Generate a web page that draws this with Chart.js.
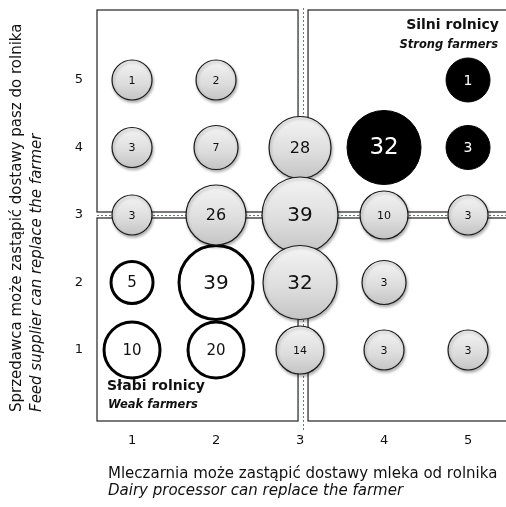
<!DOCTYPE html>
<html>
<head>
<meta charset="utf-8">
<script src="https://cdn.jsdelivr.net/npm/chart.js@4.4.1/dist/chart.umd.min.js"></script>
<style>
  html, body { margin: 0; padding: 0; background: #fff; }
  #wrap { width: 506px; height: 507px; }
</style>
</head>
<body>
<div id="wrap"><canvas id="bubbleChart"></canvas></div>
<script>
// tick labels
const xTicks = [1, 2, 3, 4, 5];
const yTicks = [1, 2, 3, 4, 5];

// middle group (grey bubbles), drawn top row first
const midX     = [1, 2, 1, 2, 3, 1, 2, 3, 4, 5, 3, 4, 3, 4, 5];
const midY     = [5, 5, 4, 4, 4, 3, 3, 3, 3, 3, 2, 2, 1, 1, 1];
const midCount = [1, 2, 3, 7, 28, 3, 26, 39, 10, 3, 32, 3, 14, 3, 3];
const midSize  = [20, 20, 20, 22, 31, 20, 30, 38, 24, 20, 37, 22, 24, 20, 20];

// weak farmers (open circles)
const weakX     = [1, 2, 1, 2];
const weakY     = [2, 2, 1, 1];
const weakCount = [5, 39, 10, 20];
const weakSize  = [21, 37, 28, 28];

// strong farmers (black bubbles)
const strongX     = [5, 4, 5];
const strongY     = [5, 4, 4];
const strongCount = [1, 32, 3];
const strongSize  = [22, 37, 22];

const xTitle = ['Mleczarnia może zastąpić dostawy mleka od rolnika', 'Dairy processor can replace the farmer'];
const yTitle = ['Sprzedawca może zastąpić dostawy pasz do rolnika', 'Feed supplier can replace the farmer'];
const strongLabel = ['Silni rolnicy', 'Strong farmers'];
const weakLabel = ['Słabi rolnicy', 'Weak farmers'];

const FONT = '"DejaVu Sans", sans-serif';
const SPLIT = 3; // quadrant divider on both axes

function points(xs, ys, rs, counts) {
    return xs.map((x, i) => ({ x: x, y: ys[i], r: rs[i], n: counts[i] }));
}

function greyFill(c) {
    if (c.type !== 'data') return '#dcdcdc';
    const y = c.chart.scales.y;
    if (!y || !y.height) return '#dcdcdc';
    const cy = y.getPixelForValue(c.raw.y);
    const g = c.chart.ctx.createLinearGradient(0, cy - c.raw.r, 0, cy + c.raw.r);
    g.addColorStop(0, '#f4f4f4');
    g.addColorStop(0.6, '#dcdcdc');
    g.addColorStop(1, '#c4c4c4');
    return g;
}

// quadrant boxes and the blue dashed divider lines
const quadrantPlugin = {
    id: 'quadrants',
    beforeDatasetsDraw(chart) {
        const { ctx, chartArea: a, scales } = chart;
        const sx = scales.x.getPixelForValue(SPLIT) + 3;
        const sy = scales.y.getPixelForValue(SPLIT);
        ctx.save();
        ctx.strokeStyle = '#222';
        ctx.lineWidth = 1.2;
        ctx.strokeRect(a.left, a.top, sx - 5 - a.left, sy - 3 - a.top);
        ctx.strokeRect(a.left, sy + 3, sx - 5 - a.left, a.bottom - sy - 3);
        ctx.strokeRect(sx + 5, a.top, a.right + 10 - sx, sy - 3 - a.top);
        ctx.strokeRect(sx + 5, sy + 3, a.right + 10 - sx, a.bottom - sy - 3);
        ctx.strokeStyle = '#2f7fe6';
        ctx.lineWidth = 1;
        ctx.setLineDash([2, 2]);
        ctx.beginPath();
        ctx.moveTo(sx + 0.5, a.top - 2);
        ctx.lineTo(sx + 0.5, a.bottom + 10);
        ctx.moveTo(a.left, sy + 0.5);
        ctx.lineTo(a.right, sy + 0.5);
        ctx.stroke();
        ctx.restore();
    }
};

// drop shadow for the filled bubbles, value labels inside every bubble
const bubbleTextPlugin = {
    id: 'bubbleText',
    beforeDatasetDraw(chart, args) {
        const ctx = chart.ctx;
        ctx.save();
        if (args.index === 0) {
            ctx.shadowColor = 'rgba(0,0,0,0.3)';
            ctx.shadowBlur = 3;
            ctx.shadowOffsetX = 1;
            ctx.shadowOffsetY = 2;
        }
    },
    afterDatasetDraw(chart, args) {
        const ctx = chart.ctx;
        ctx.restore();
        const ds = chart.data.datasets[args.index];
        const meta = args.meta;
        ctx.save();
        ctx.textAlign = 'center';
        ctx.textBaseline = 'middle';
        ds.data.forEach((p, i) => {
            const el = meta.data[i];
            let size;
            if (args.index === 0) size = p.r < 26 ? 11 : (p.r < 34 ? 16 : 20);
            else if (args.index === 1) size = p.r >= 34 ? 20 : 15;
            else size = p.r >= 34 ? 23 : 14;
            ctx.font = size + 'px ' + FONT;
            ctx.fillStyle = args.index === 2 ? '#fff' : '#111';
            ctx.fillText(String(p.n), el.x, el.y + 1);
        });
        ctx.restore();
    }
};

// axis titles and quadrant names
const titlesPlugin = {
    id: 'titles',
    afterDraw(chart) {
        const ctx = chart.ctx;
        ctx.save();
        ctx.fillStyle = '#111';
        ctx.textBaseline = 'alphabetic';
        ctx.textAlign = 'left';
        ctx.font = '15px ' + FONT;
        ctx.fillText(xTitle[0], 108, 478);
        ctx.font = 'italic 15px ' + FONT;
        ctx.fillText(xTitle[1], 108, 495);

        ctx.save();
        ctx.translate(21, 412);
        ctx.rotate(-Math.PI / 2);
        ctx.font = '15px ' + FONT;
        ctx.fillText(yTitle[0], 0, 0);
        ctx.font = 'italic 15px ' + FONT;
        ctx.fillText(yTitle[1], 0, 20);
        ctx.restore();

        ctx.textAlign = 'right';
        ctx.font = 'bold 14px ' + FONT;
        ctx.fillText(strongLabel[0], 499, 29);
        ctx.font = 'bold italic 11.5px ' + FONT;
        ctx.fillText(strongLabel[1], 498, 48);

        ctx.textAlign = 'left';
        ctx.font = 'bold 14px ' + FONT;
        ctx.fillText(weakLabel[0], 107, 390);
        ctx.font = 'bold italic 11.5px ' + FONT;
        ctx.fillText(weakLabel[1], 108, 408);
        ctx.restore();
    }
};

new Chart(document.getElementById('bubbleChart'), {
    type: 'bubble',
    data: {
        datasets: [{
            label: 'middle',
            data: points(midX, midY, midSize, midCount),
            backgroundColor: greyFill,
            borderColor: '#1a1a1a',
            borderWidth: 1.2
        }, {
            label: 'weak',
            data: points(weakX, weakY, weakSize, weakCount),
            backgroundColor: '#fff',
            borderColor: '#000',
            borderWidth: 3
        }, {
            label: 'strong',
            data: points(strongX, strongY, strongSize, strongCount),
            backgroundColor: '#000',
            borderColor: '#000',
            borderWidth: 1
        }]
    },
    options: {
        responsive: true,
        maintainAspectRatio: false,
        animation: false,
        layout: { autoPadding: false, padding: { top: 10, right: 0, left: 0, bottom: 0 } },
        plugins: {
            legend: { display: false },
            tooltip: { enabled: false }
        },
        scales: {
            x: {
                type: 'linear',
                min: 0.583,
                max: 5.452,
                grid: { display: false, drawTicks: false },
                border: { display: false },
                afterBuildTicks: s => { s.ticks = xTicks.map(v => ({ value: v })); },
                afterFit: s => { s.height = 86; s.paddingLeft = 0; s.paddingRight = 0; },
                ticks: { color: '#111', padding: 12, font: { family: FONT, size: 13 } }
            },
            y: {
                type: 'linear',
                min: -0.052,
                max: 6.037,
                grid: { display: false, drawTicks: false },
                border: { display: false },
                afterBuildTicks: s => { s.ticks = yTicks.map(v => ({ value: v })); },
                afterFit: s => { s.width = 97; s.paddingTop = 0; s.paddingBottom = 0; },
                ticks: { color: '#111', padding: 14, font: { family: FONT, size: 13 } }
            }
        }
    },
    plugins: [quadrantPlugin, bubbleTextPlugin, titlesPlugin]
});
</script>
</body>
</html>
